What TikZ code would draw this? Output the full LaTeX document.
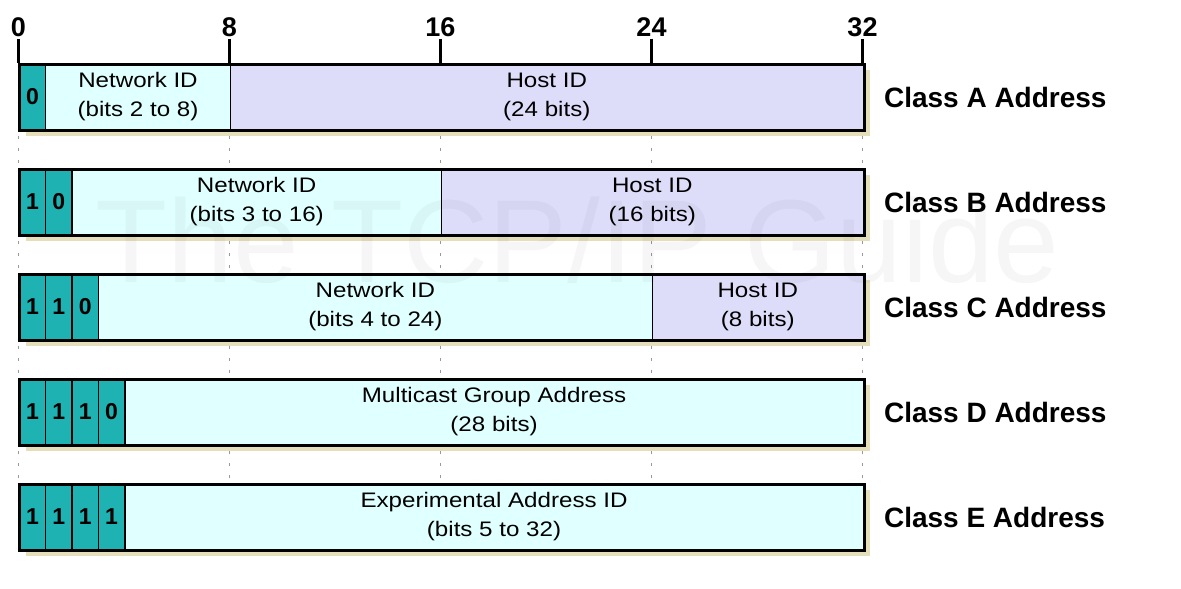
\documentclass[tikz,border=0pt]{standalone}
\usepackage{fontspec}
\setmainfont{Liberation Sans}
\newfontfamily\fieldfont{Liberation Sans}[FakeStretch=1.15]
\usepackage{xcolor}
\usetikzlibrary{positioning}

\definecolor{bitteal}{RGB}{30,178,178}
\definecolor{netcyan}{RGB}{224,255,255}
\definecolor{hostlav}{RGB}{221,221,250}
\definecolor{shadowtan}{RGB}{229,222,186}

\begin{document}
\begin{tikzpicture}[
  x=26.375pt, y=-1pt,
  cell/.style={draw=black,line width=1.6pt,anchor=north west,
    minimum height=66pt,inner sep=0pt,align=center},
  bit cell/.style={cell,fill=bitteal,minimum width=26.375pt,
    font=\fontsize{23}{26}\selectfont\bfseries},
  net cell/.style={cell,fill=netcyan,minimum width=#1*26.375pt,
    font=\fieldfont\fontsize{21}{29}\selectfont},
  host cell/.style={cell,fill=hostlav,minimum width=#1*26.375pt,
    font=\fieldfont\fontsize{21}{29}\selectfont},
  row frame/.style={draw=black,line width=3pt,anchor=north west,
    minimum width=844pt,minimum height=66pt,inner sep=0pt},
  row shadow/.style={fill=shadowtan,anchor=north west,
    minimum width=844pt,minimum height=66pt,inner sep=0pt},
  class label/.style={font=\fontsize{28}{32}\selectfont\bfseries},
  scale num/.style={font=\fontsize{27}{30}\selectfont\bfseries,inner sep=2pt},
  tick/.style={draw=black,line width=2.5pt},
  guide/.style={draw=black!40,line width=1.5pt,dash pattern=on 3pt off 9pt},
  watermark/.style={font=\fontsize{118}{118}\selectfont,text=black,text opacity=0.035}
]
\useasboundingbox (-0.7014,0) rectangle (44.076,589);

% Bit scale along the top.
\node[scale num] (n0) at (0,27) {0};
\node[scale num] (n8) at (8,27) {8};
\node[scale num] (n16) at (16,27) {16};
\node[scale num] (n24) at (24,27) {24};
\node[scale num] (n32) at (32,27) {32};

% A — one leading bit, 7-bit network.
\node[row shadow] (a-shadow) at (0.265,70) {};
\node[bit cell] (a-bit1) at (0,63) {0};
\node[net cell=7] (a-net) at (1,63) {Network ID\\(bits 2 to 8)};
\node[host cell=24] (a-host) at (8,63) {Host ID\\(24 bits)};
\node[row frame] (a-row) at (0,63) {};
\node[class label,right=15pt of a-row] (a-label) {Class A Address};

% B — two leading bits, 14-bit network.
\node[row shadow] (b-shadow) at (0.265,175) {};
\node[bit cell] (b-bit1) at (0,168) {1};
\node[bit cell] (b-bit2) at (1,168) {0};
\node[net cell=14] (b-net) at (2,168) {Network ID\\(bits 3 to 16)};
\node[host cell=16] (b-host) at (16,168) {Host ID\\(16 bits)};
\node[row frame] (b-row) at (0,168) {};
\node[class label,right=15pt of b-row] (b-label) {Class B Address};

% C — three leading bits, 21-bit network.
\node[row shadow] (c-shadow) at (0.265,280) {};
\node[bit cell] (c-bit1) at (0,273) {1};
\node[bit cell] (c-bit2) at (1,273) {1};
\node[bit cell] (c-bit3) at (2,273) {0};
\node[net cell=21] (c-net) at (3,273) {Network ID\\(bits 4 to 24)};
\node[host cell=8] (c-host) at (24,273) {Host ID\\(8 bits)};
\node[row frame] (c-row) at (0,273) {};
\node[class label,right=15pt of c-row] (c-label) {Class C Address};

% D — multicast.
\node[row shadow] (d-shadow) at (0.265,385) {};
\node[bit cell] (d-bit1) at (0,378) {1};
\node[bit cell] (d-bit2) at (1,378) {1};
\node[bit cell] (d-bit3) at (2,378) {1};
\node[bit cell] (d-bit4) at (3,378) {0};
\node[net cell=28] (d-group) at (4,378) {Multicast Group Address\\(28 bits)};
\node[row frame] (d-row) at (0,378) {};
\node[class label,right=15pt of d-row] (d-label) {Class D Address};

% E — experimental.
\node[row shadow] (e-shadow) at (0.265,490) {};
\node[bit cell] (e-bit1) at (0,483) {1};
\node[bit cell] (e-bit2) at (1,483) {1};
\node[bit cell] (e-bit3) at (2,483) {1};
\node[bit cell] (e-bit4) at (3,483) {1};
\node[net cell=28] (e-exp) at (4,483) {Experimental Address ID\\(bits 5 to 32)};
\node[row frame] (e-row) at (0,483) {};
\node[class label,right=15pt of e-row] (e-label) {Class E Address};

% Ticks down to the first row, dotted guides between rows.
\draw[tick] (n0.south) -- (n0 |- a-row.north) (n8.south) -- (n8 |- a-row.north)
  (n16.south) -- (n16 |- a-row.north) (n24.south) -- (n24 |- a-row.north)
  (n32.south) -- (n32 |- a-row.north);
\draw[guide] (n0 |- a-shadow.south) -- (n0 |- b-row.north) (n0 |- b-shadow.south) -- (n0 |- c-row.north)
  (n0 |- c-shadow.south) -- (n0 |- d-row.north) (n0 |- d-shadow.south) -- (n0 |- e-row.north);
\draw[guide] (n8 |- a-shadow.south) -- (n8 |- b-row.north) (n8 |- b-shadow.south) -- (n8 |- c-row.north)
  (n8 |- c-shadow.south) -- (n8 |- d-row.north) (n8 |- d-shadow.south) -- (n8 |- e-row.north);
\draw[guide] (n16 |- a-shadow.south) -- (n16 |- b-row.north) (n16 |- b-shadow.south) -- (n16 |- c-row.north)
  (n16 |- c-shadow.south) -- (n16 |- d-row.north) (n16 |- d-shadow.south) -- (n16 |- e-row.north);
\draw[guide] (n24 |- a-shadow.south) -- (n24 |- b-row.north) (n24 |- b-shadow.south) -- (n24 |- c-row.north)
  (n24 |- c-shadow.south) -- (n24 |- d-row.north) (n24 |- d-shadow.south) -- (n24 |- e-row.north);
\draw[guide] (n32 |- a-shadow.south) -- (n32 |- b-row.north) (n32 |- b-shadow.south) -- (n32 |- c-row.north)
  (n32 |- c-shadow.south) -- (n32 |- d-row.north) (n32 |- d-shadow.south) -- (n32 |- e-row.north);

% Faint watermark.
\node[watermark] (mark) at (21.2,240) {The TCP/IP Guide};

\end{tikzpicture}
\end{document}
